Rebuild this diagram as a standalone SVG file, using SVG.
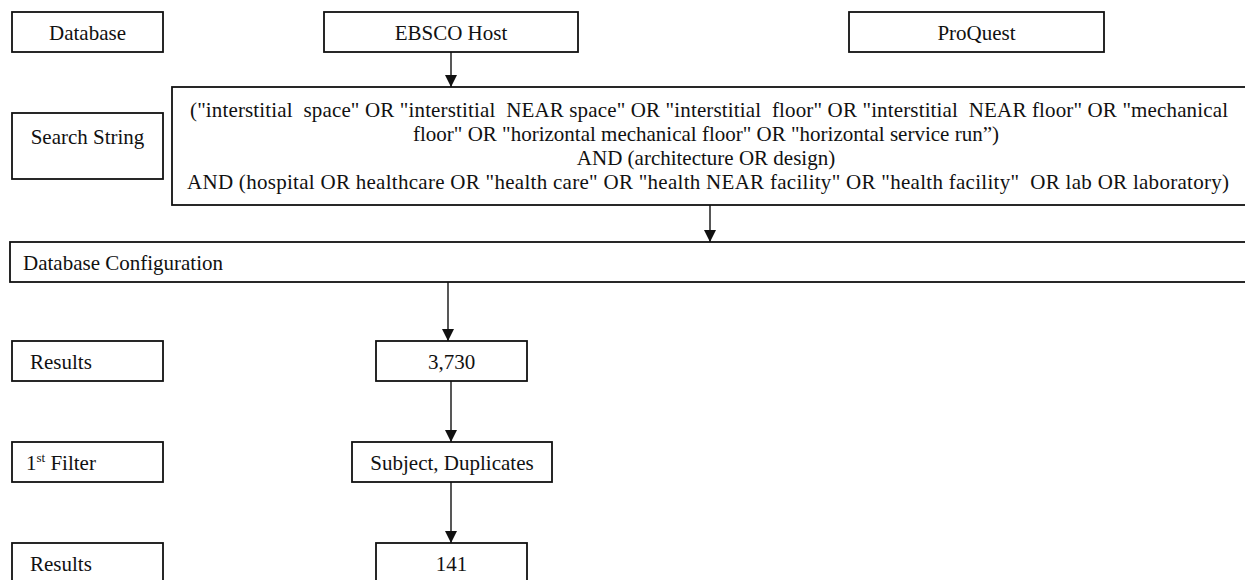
<svg xmlns="http://www.w3.org/2000/svg" width="1245" height="580" viewBox="0 0 1245 580">
  <style>
    .box { fill: #ffffff; stroke: #111111; stroke-width: 1.8; }
    .lbl { font-size: 21px; fill: #111111; }
    .mid { text-anchor: middle; }
    .pre { white-space: pre; }
    .conn { stroke: #111111; stroke-width: 1.4; fill: none; }
  </style>
  <defs>
    <marker id="arrow" markerUnits="userSpaceOnUse" markerWidth="12" markerHeight="14" refX="12" refY="6" orient="auto">
      <path d="M0,0 L12,6 L0,12 Z" fill="#111111"/>
    </marker>
  </defs>

  <rect width="1245" height="580" fill="#ffffff"/>

  <g font-family="'Liberation Serif', 'DejaVu Serif', serif">
  <!-- row labels -->
  <g id="label-database">
    <rect class="box" x="12" y="12" width="151" height="40"/>
    <text class="lbl mid" x="87.5" y="40">Database</text>
  </g>
  <g id="label-search-string">
    <rect class="box" x="12" y="113" width="151" height="66"/>
    <text class="lbl mid" x="87.5" y="144">Search String</text>
  </g>
  <g id="label-configuration">
    <rect class="box" x="10" y="242" width="1240" height="40"/>
    <text class="lbl" x="23" y="270">Database Configuration</text>
  </g>
  <g id="label-results-1">
    <rect class="box" x="12" y="341" width="151" height="40"/>
    <text class="lbl" x="30" y="369">Results</text>
  </g>
  <g id="label-filter">
    <rect class="box" x="12" y="442" width="151" height="40"/>
    <text class="lbl" x="26" y="470">1<tspan font-size="13" dy="-8">st</tspan><tspan dy="8"> Filter</tspan></text>
  </g>
  <g id="label-results-2">
    <rect class="box" x="12" y="543" width="151" height="45"/>
    <text class="lbl" x="30" y="571">Results</text>
  </g>

  <!-- databases -->
  <g id="node-ebsco">
    <rect class="box" x="324" y="12" width="254" height="40"/>
    <text class="lbl mid" x="451" y="40">EBSCO Host</text>
  </g>
  <g id="node-proquest">
    <rect class="box" x="849" y="12" width="255" height="40"/>
    <text class="lbl mid" x="976.5" y="40">ProQuest</text>
  </g>

  <!-- search string -->
  <g id="node-search-string">
    <rect class="box" x="172" y="87" width="1080" height="118"/>
    <text class="lbl pre" x="190" y="117" textLength="1038" lengthAdjust="spacing">("interstitial  space" OR "interstitial  NEAR space" OR "interstitial  floor" OR "interstitial  NEAR floor" OR "mechanical</text>
    <text class="lbl mid" x="706" y="141">floor" OR "horizontal mechanical floor" OR "horizontal service run”)</text>
    <text class="lbl mid" x="706" y="165">AND (architecture OR design)</text>
    <text class="lbl pre" x="187" y="189" textLength="1042" lengthAdjust="spacing">AND (hospital OR healthcare OR "health care" OR "health NEAR facility" OR "health facility"  OR lab OR laboratory)</text>
  </g>

  <!-- counts and filters -->
  <g id="node-results-3730">
    <rect class="box" x="376" y="341" width="151" height="40"/>
    <text class="lbl mid" x="451.5" y="369">3,730</text>
  </g>
  <g id="node-filter-subject">
    <rect class="box" x="352" y="442" width="200" height="40"/>
    <text class="lbl mid" x="452" y="470">Subject, Duplicates</text>
  </g>
  <g id="node-results-141">
    <rect class="box" x="376" y="543" width="151" height="45"/>
    <text class="lbl mid" x="451.5" y="571">141</text>
  </g>
  </g>

  <!-- connectors -->
  <g id="connectors">
    <line class="conn" x1="451" y1="52" x2="451" y2="87" marker-end="url(#arrow)"/>
    <line class="conn" x1="710" y1="205" x2="710" y2="242" marker-end="url(#arrow)"/>
    <line class="conn" x1="448" y1="282" x2="448" y2="341" marker-end="url(#arrow)"/>
    <line class="conn" x1="451" y1="381" x2="451" y2="442" marker-end="url(#arrow)"/>
    <line class="conn" x1="451" y1="482" x2="451" y2="543" marker-end="url(#arrow)"/>
  </g>
</svg>
